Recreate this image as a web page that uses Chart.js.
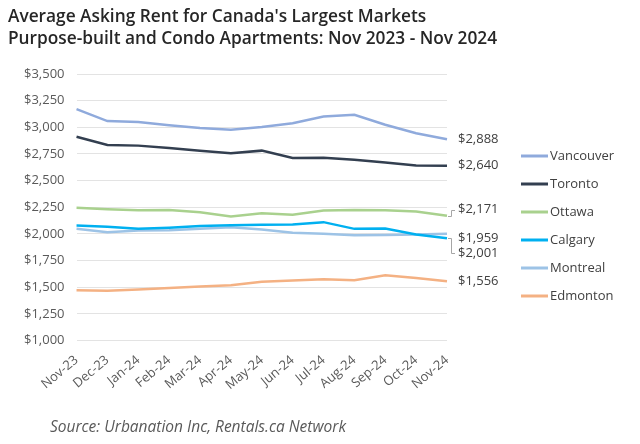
<!DOCTYPE html>
<html>
<head>
<meta charset="utf-8">
<script src="https://cdn.jsdelivr.net/npm/chart.js@4/dist/chart.umd.min.js"></script>
<style>
  body { margin: 0; background: #fff; }
  #chart { display: block; }
</style>
</head>
<body>
<canvas id="chart" width="640" height="444"></canvas>
<script>
const months = ['Nov-23','Dec-23','Jan-24','Feb-24','Mar-24','Apr-24','May-24','Jun-24','Jul-24','Aug-24','Sep-24','Oct-24','Nov-24'];
const cities = ['Vancouver','Toronto','Ottawa','Calgary','Montreal','Edmonton'];
const vancouver = [3170, 3058, 3050, 3019, 2993, 2977, 3002, 3038, 3101, 3117, 3024, 2944, 2888];
const toronto   = [2912, 2834, 2828, 2806, 2781, 2757, 2781, 2713, 2715, 2696, 2670, 2642, 2640];
const ottawa    = [2244, 2231, 2222, 2225, 2203, 2162, 2193, 2179, 2219, 2225, 2222, 2210, 2171];
const calgary   = [2079, 2067, 2047, 2057, 2073, 2082, 2085, 2088, 2110, 2047, 2050, 1994, 1959];
const montreal  = [2047, 2016, 2032, 2033, 2047, 2063, 2041, 2010, 2001, 1986, 1990, 1993, 2001];
const edmonton  = [1472, 1466, 1477, 1492, 1507, 1518, 1550, 1562, 1575, 1566, 1612, 1585, 1556];
const yTicks = [1000, 1250, 1500, 1750, 2000, 2250, 2500, 2750, 3000, 3250, 3500];
const colors = ['#8faadc', '#333f50', '#a9d18e', '#00b0f0', '#9dc3e6', '#f4b183'];
const series = [vancouver, toronto, ottawa, calgary, montreal, edmonton];

const money = v => '$' + v.toLocaleString('en-US');
const FONT = '"Open Sans", sans-serif';

// extras drawn on the canvas: title, end labels, legend, source
const extras = {
  id: 'extras',
  afterDraw(chart) {
    const ctx = chart.ctx;
    const xs = chart.scales.x, ys = chart.scales.y;
    ctx.save();

    ctx.fillStyle = '#262626';
    ctx.font = '600 17.3px ' + FONT;
    ctx.textBaseline = 'alphabetic';
    ctx.textAlign = 'left';
    ctx.fillText("Average Asking Rent for Canada's Largest Markets", 8, 22);
    ctx.fillText('Purpose-built and Condo Apartments: Nov 2023 - Nov 2024', 8, 44);

    // end-of-line value labels
    const last = months.length - 1;
    const xEnd = xs.getPixelForValue(last);
    const shift = { Ottawa: -6, Montreal: 15 };
    const anchor = { Montreal: 'Calgary' };
    ctx.font = '13px ' + FONT;
    ctx.fillStyle = '#404040';
    ctx.textBaseline = 'middle';
    ctx.strokeStyle = '#a6a6a6';
    ctx.lineWidth = 1;
    chart.data.datasets.forEach((ds, i) => {
      const v = ds.data[last];
      const base = anchor[ds.label] ? chart.data.datasets[cities.indexOf(anchor[ds.label])].data[last] : v;
      const yLine = ys.getPixelForValue(base);
      const yLab = yLine + (shift[ds.label] || 0);
      if (shift[ds.label]) {
        ctx.beginPath();
        ctx.moveTo(xEnd + 1, Math.round(yLine) + 0.5);
        ctx.lineTo(xEnd + 4.5, Math.round(yLine) + 0.5);
        ctx.lineTo(xEnd + 4.5, Math.round(yLab) + 0.5);
        ctx.lineTo(xEnd + 8, Math.round(yLab) + 0.5);
        ctx.stroke();
      }
      ctx.fillText(money(v), xEnd + 11, yLab);
    });

    // legend
    ctx.font = '13px ' + FONT;
    chart.data.datasets.forEach((ds, i) => {
      const yy = 156 + i * 28;
      ctx.strokeStyle = ds.borderColor;
      ctx.lineWidth = 3;
      ctx.beginPath();
      ctx.moveTo(521, yy);
      ctx.lineTo(548, yy);
      ctx.stroke();
      ctx.fillStyle = '#404040';
      ctx.fillText(ds.label, 550, yy);
    });

    ctx.font = 'italic 15.5px ' + FONT;
    ctx.fillStyle = '#595959';
    ctx.textBaseline = 'alphabetic';
    ctx.fillText('Source: Urbanation Inc, Rentals.ca Network', 50, 432);
    ctx.restore();
  }
};

new Chart(document.getElementById('chart'), {
  type: 'line',
  data: {
    labels: months,
    datasets: cities.map((c, i) => ({
      label: c,
      data: series[i],
      borderColor: colors[i],
      backgroundColor: colors[i],
      borderWidth: 2.5,
      pointRadius: 0,
      tension: 0
    }))
  },
  options: {
    responsive: false,
    animation: false,
    devicePixelRatio: 1,
    layout: { padding: { left: 12, right: 193, top: 74, bottom: 47 } },
    plugins: { legend: { display: false }, title: { display: false }, tooltip: { enabled: false } },
    scales: {
      x: {
        offset: false,
        grid: { display: false },
        border: { display: false },
        ticks: {
          minRotation: 40, maxRotation: 40, autoSkip: false,
          color: '#595959', font: { family: FONT, size: 13 }, padding: 4
        }
      },
      y: {
        min: 1000, max: 3500,
        afterBuildTicks: s => { s.ticks = yTicks.map(v => ({ value: v })); },
        grid: { color: '#e3e3e3', lineWidth: 1, drawTicks: false },
        border: { display: false },
        ticks: {
          color: '#595959', font: { family: FONT, size: 13 }, padding: 12,
          callback: v => money(v)
        }
      }
    }
  },
  plugins: [extras]
});
</script>
</body>
</html>
